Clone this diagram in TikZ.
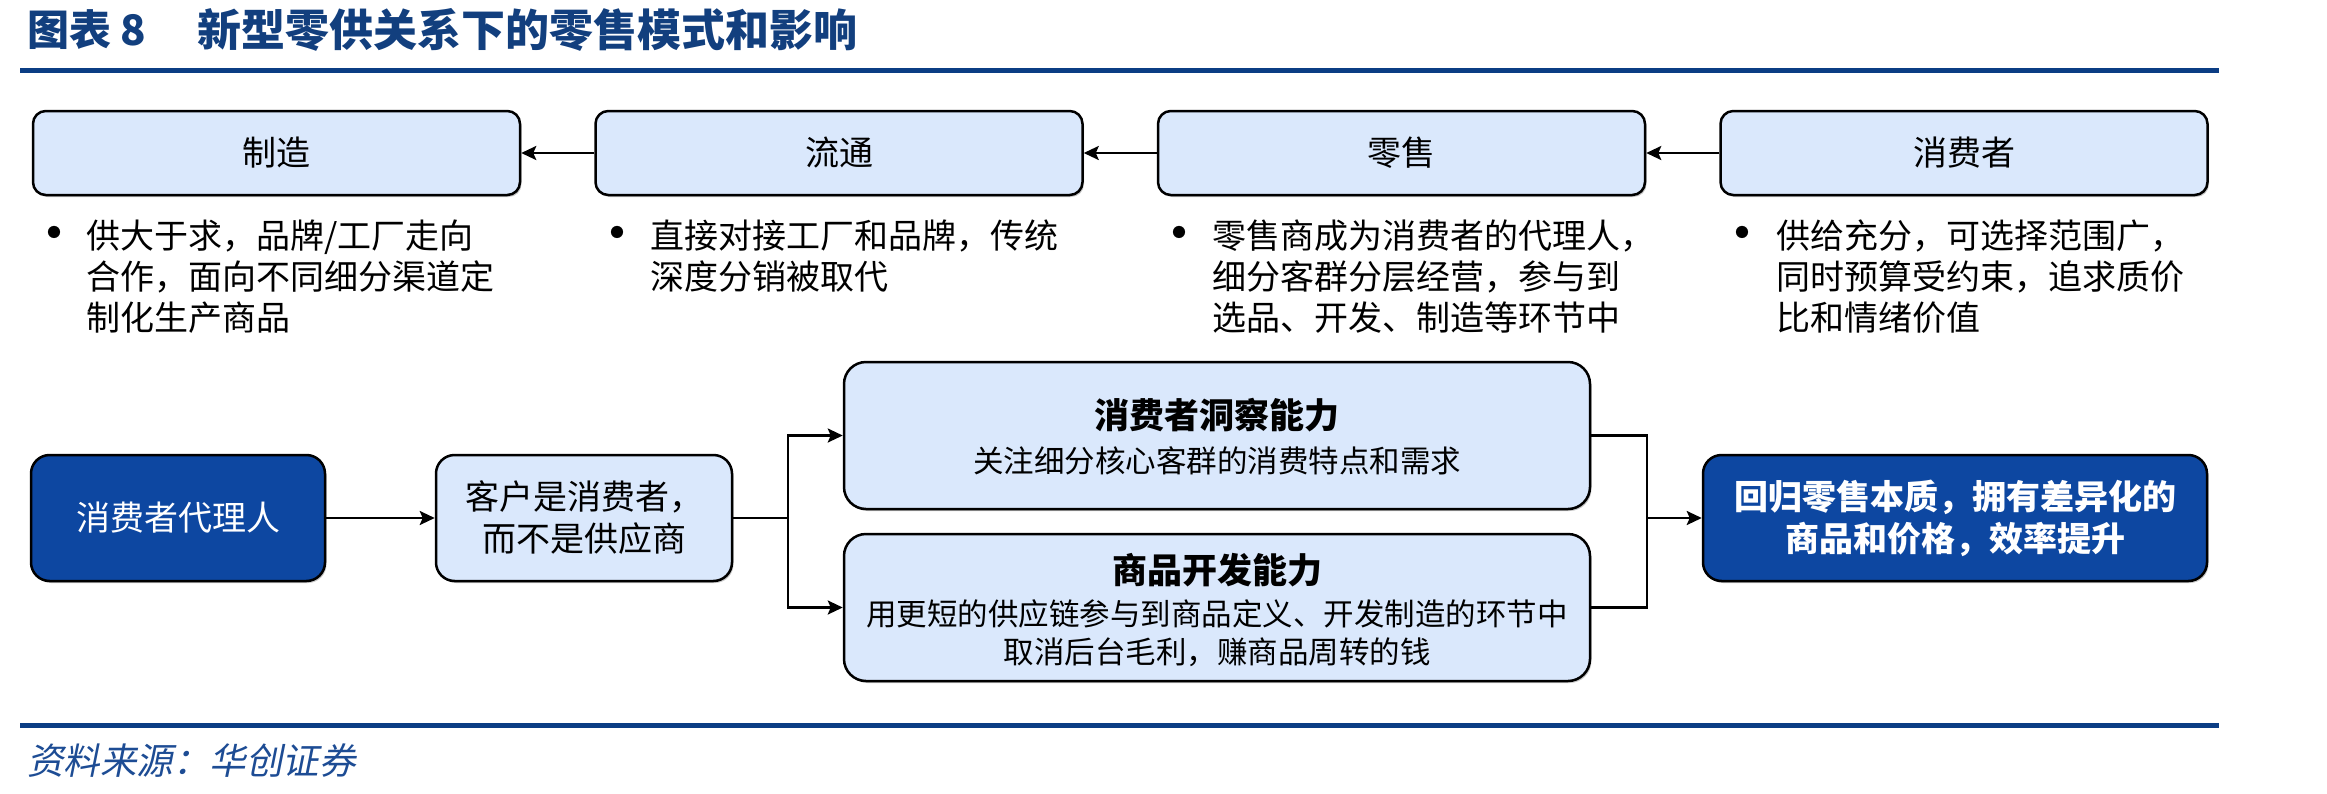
\documentclass[tikz,border=0pt]{standalone}
\usepackage{fontspec}
\setmainfont{Noto Sans CJK SC}
\newfontfamily\slantcjk{Noto Sans CJK SC}[FakeSlant=0.2]
\usetikzlibrary{arrows.meta,shadows}

\definecolor{boxfill}{HTML}{DAE8FC}
\definecolor{deepblue}{HTML}{0D47A1}
\definecolor{navy}{HTML}{123F7E}
\definecolor{rulecol}{HTML}{0B3D84}
\definecolor{srccol}{HTML}{1D4C94}

\newcommand\setfs[1]{\fontsize{#1}{#1}\selectfont}

\tikzset{
  boxbase/.style={draw=black, line width=2.5pt, inner sep=0pt, align=center,
    drop shadow={shadow xshift=1.5pt, shadow yshift=-2pt, opacity=0.22, fill=black}},
  topbox/.style={boxbase, fill=boxfill, rounded corners=12.8pt,
    minimum width=487pt, minimum height=84pt, font=\setfs{34}},
  bigbox/.style={boxbase, fill=boxfill, rounded corners=22pt,
    minimum width=746pt, minimum height=147pt},
  midbox/.style={boxbase, fill=boxfill, rounded corners=18.6pt,
    minimum height=126pt, font=\fontsize{34}{42}\selectfont},
  darkbox/.style={boxbase, fill=deepblue, text=white, rounded corners=18.6pt,
    minimum height=126pt, font=\fontsize{34}{42}\selectfont},
  bodyline/.style={anchor=west, inner sep=0pt, text height=30pt, text depth=4pt,
    font=\setfs{34}},
  subline/.style={anchor=center, inner sep=0pt, text height=27pt, text depth=4pt,
    font=\setfs{30.5}},
  headline/.style={anchor=center, inner sep=0pt, text height=31pt, text depth=4pt,
    font=\setfs{35}\bfseries},
  dot/.style={anchor=center, inner sep=0pt, font=\setfs{58}},
  link/.style={draw=black, line width=2.5pt},
  arr/.style={link, -{Stealth[length=15pt, width=14pt, inset=3pt]}},
}

\begin{document}
\begin{tikzpicture}[x=1pt, y=-1pt]
\useasboundingbox (0,0) rectangle (2327,793);

% heading and rules
\node[anchor=west, inner sep=0pt, text=navy, font=\setfs{42}\bfseries] (fig) at (27,30) {图表 8};
\node[anchor=west, inner sep=0pt, text=navy, font=\setfs{44}\bfseries] (title) at (197,30) {新型零供关系下的零售模式和影响};
\draw[rulecol, line width=4.5pt] (20,70.5) -- (2219,70.5);
\draw[rulecol, line width=4.5pt] (20,725.5) -- (2219,725.5);
\node[anchor=west, inner sep=0pt, text=srccol, font=\setfs{36.5}\slantcjk] (src) at (27,761) {资料来源：华创证券};

% value chain row
\node[topbox] (zz) at (276.5,153) {制造};
\node[topbox] (lt) at (839,153) {流通};
\node[topbox] (ls) at (1401.5,153) {零售};
\node[topbox] (xf) at (1964,153) {消费者};

\draw[arr] (lt.west) -- (zz.east);
\draw[arr] (ls.west) -- (lt.east);
\draw[arr] (xf.west) -- (ls.east);

% notes under each stage
\node[dot] (b1) at (54,240) {•};
\node[bodyline] (t1a) at (86,235) {供大于求，品牌/工厂走向};
\node[bodyline] (t1b) at (86,276) {合作，面向不同细分渠道定};
\node[bodyline] (t1c) at (86,317) {制化生产商品};

\node[dot] (b2) at (617,240) {•};
\node[bodyline] (t2a) at (650,235) {直接对接工厂和品牌，传统};
\node[bodyline] (t2b) at (650,276) {深度分销被取代};

\node[dot] (b3) at (1179,240) {•};
\node[bodyline] (t3a) at (1212,235) {零售商成为消费者的代理人，};
\node[bodyline] (t3b) at (1212,276) {细分客群分层经营，参与到};
\node[bodyline] (t3c) at (1212,317) {选品、开发、制造等环节中};

\node[dot] (b4) at (1742,240) {•};
\node[bodyline] (t4a) at (1776,235) {供给充分，可选择范围广，};
\node[bodyline] (t4b) at (1776,276) {同时预算受约束，追求质价};
\node[bodyline] (t4c) at (1776,317) {比和情绪价值};

% lower flow
\node[darkbox, minimum width=294pt] (dl) at (178,518) {消费者代理人};
\node[midbox, minimum width=296pt] (kh) at (584,518) {客户是消费者，\\而不是供应商};

\node[bigbox] (dc) at (1217,435.5) {};
\node[headline] (dch) at (1217,415) {消费者洞察能力};
\node[subline] (dcs) at (1217,461) {关注细分核心客群的消费特点和需求};

\node[bigbox] (sp) at (1217,607.5) {};
\node[headline] (sph) at (1217,570) {商品开发能力};
\node[subline] (sps1) at (1217,614) {用更短的供应链参与到商品定义、开发制造的环节中};
\node[subline] (sps2) at (1217,652) {取消后台毛利，赚商品周转的钱};

\node[darkbox, minimum width=504pt, font=\fontsize{34}{42}\selectfont\bfseries] (hg) at (1955,518)
  {回归零售本质，拥有差异化的\\商品和价格，效率提升};

\coordinate (j1) at (788,518);
\coordinate (j2) at (1647,518);

\draw[arr] (dl.east) -- (kh.west);
\draw[link] (kh.east) -- (j1);
\draw[arr] (j1) |- (dc.west);
\draw[arr] (j1) |- (sp.west);
\draw[link] (dc.east) -| (j2);
\draw[link] (sp.east) -| (j2);
\draw[arr] (j2) -- (hg.west);
\end{tikzpicture}
\end{document}
